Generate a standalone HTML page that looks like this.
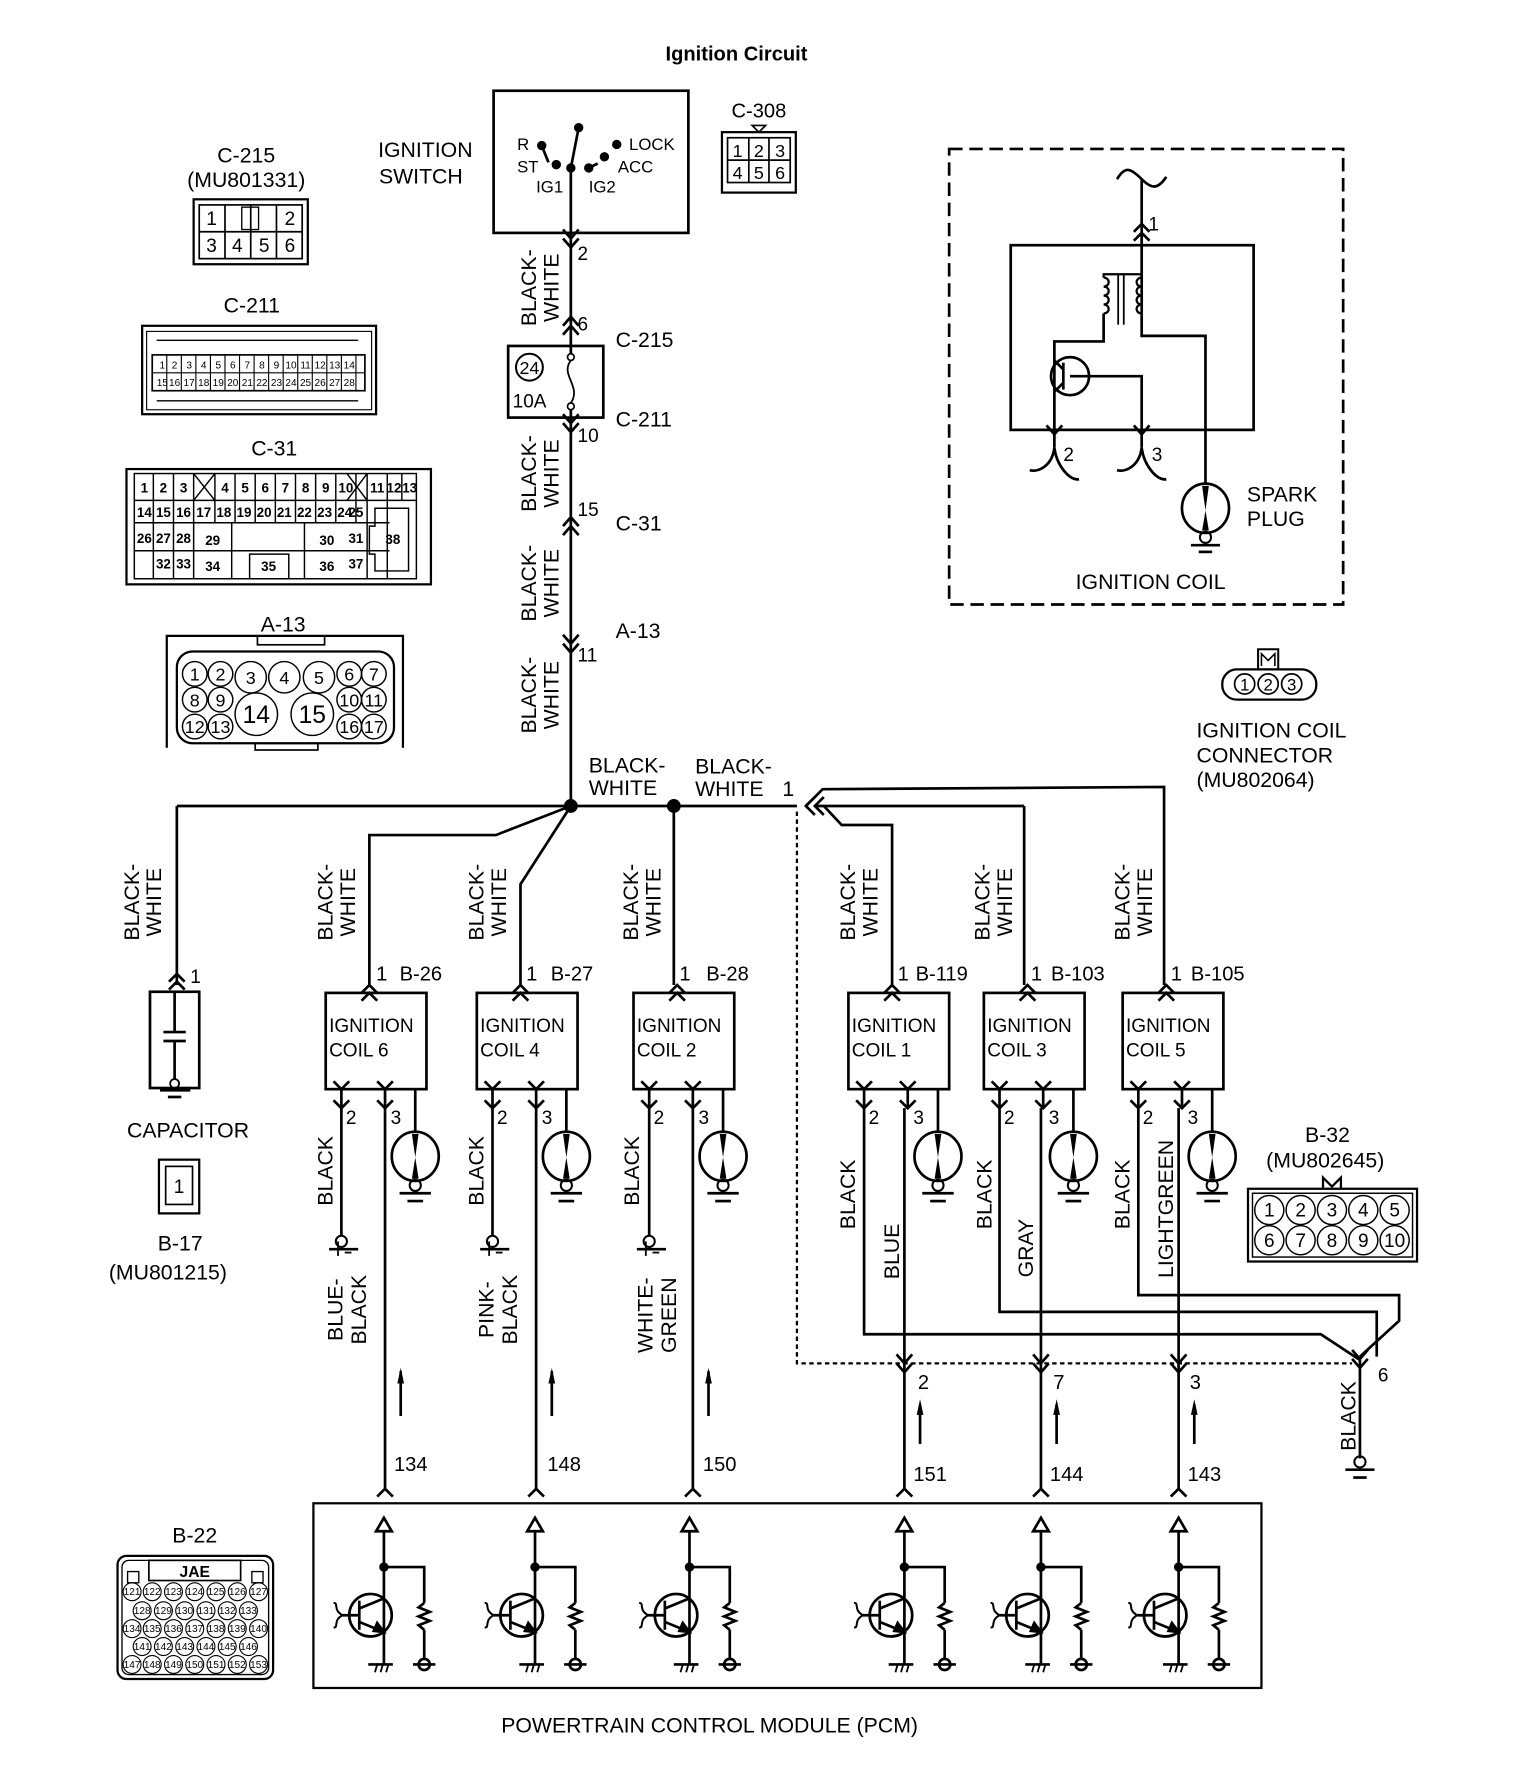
<!DOCTYPE html>
<html><head><meta charset="utf-8"><style>
html,body{margin:0;padding:0;background:#fff}
svg{display:block}
text{font-family:"Liberation Sans",sans-serif;fill:#000}
</style></head><body>
<svg width="1520" height="1772" viewBox="0 0 1358 1583" xmlns="http://www.w3.org/2000/svg">
<g fill="none" stroke="#000" stroke-width="2.4">

<!-- Title -->
<text x="658" y="54" font-size="18" font-weight="bold" text-anchor="middle" stroke="none">Ignition Circuit</text>

<!-- Ignition switch -->
<rect x="441" y="81" width="174" height="127"/>
<g stroke="none" font-size="15">
<text x="462" y="134">R</text><text x="462" y="154">ST</text>
<text x="479" y="172">IG1</text><text x="526" y="172">IG2</text>
<text x="562" y="134">LOCK</text><text x="552" y="154">ACC</text>
</g>
<circle cx="484" cy="130" r="3" fill="#000"/><circle cx="497" cy="147" r="3" fill="#000"/>
<circle cx="510" cy="150" r="3" fill="#000"/><circle cx="526" cy="150" r="3" fill="#000"/>
<circle cx="540" cy="140" r="3" fill="#000"/><circle cx="551" cy="129" r="3" fill="#000"/>
<circle cx="517" cy="114" r="3" fill="#000"/>
<line x1="510" y1="150" x2="517" y2="114"/>
<line x1="510" y1="150" x2="510" y2="208"/>
<line x1="484" y1="130" x2="490" y2="145"/><line x1="526" y1="150" x2="534" y2="146"/>

<text x="380" y="140" font-size="19" text-anchor="middle" stroke="none">IGNITION</text>
<text x="376" y="164" font-size="19" text-anchor="middle" stroke="none">SWITCH</text>

<!-- C-308 -->
<text x="678" y="105" font-size="18" text-anchor="middle" stroke="none">C-308</text>
<polygon points="672,112 684,112 678,118" stroke-width="1.5"/>
<rect x="645" y="118" width="66" height="54" stroke-width="2"/>
<rect x="650" y="123" width="56" height="40" stroke-width="1.5"/>
<line x1="669" y1="123" x2="669" y2="163" stroke-width="1.5"/><line x1="687" y1="123" x2="687" y2="163" stroke-width="1.5"/>
<line x1="650" y1="143" x2="706" y2="143" stroke-width="1.5"/>
<g stroke="none" font-size="16" text-anchor="middle">
<text x="659" y="140">1</text><text x="678" y="140">2</text><text x="697" y="140">3</text>
<text x="659" y="160">4</text><text x="678" y="160">5</text><text x="697" y="160">6</text></g>

<!-- C-215 connector -->
<text x="220" y="145" font-size="19" text-anchor="middle" stroke="none">C-215</text>
<text x="220" y="167" font-size="19" text-anchor="middle" stroke="none">(MU801331)</text>
<rect x="173" y="178" width="102" height="58" stroke-width="2"/>
<rect x="178" y="183" width="92" height="48" stroke-width="1.5"/>
<line x1="178" y1="207" x2="270" y2="207" stroke-width="1.5"/>
<line x1="201" y1="183" x2="201" y2="231" stroke-width="1.5"/><line x1="224" y1="183" x2="224" y2="231" stroke-width="1.5"/><line x1="247" y1="183" x2="247" y2="231" stroke-width="1.5"/>
<rect x="216" y="185" width="15" height="20" stroke-width="1.2"/>
<g stroke="none" font-size="17" text-anchor="middle">
<text x="189" y="201">1</text><text x="259" y="201">2</text>
<text x="189" y="225">3</text><text x="212" y="225">4</text><text x="236" y="225">5</text><text x="259" y="225">6</text></g>

<!-- C-211 -->
<text x="225" y="279" font-size="19" text-anchor="middle" stroke="none">C-211</text>
<rect x="127" y="291" width="209" height="79" stroke-width="2"/>
<rect x="131" y="296" width="201" height="70" stroke-width="1"/>
<line x1="140" y1="304" x2="320" y2="304" stroke-width="1.2"/>
<line x1="140" y1="358" x2="320" y2="358" stroke-width="1.2"/>
<rect x="136" y="317" width="190" height="32" stroke-width="1.5"/>
<line x1="136" y1="333" x2="326" y2="333" stroke-width="1"/>
<g stroke-width="1">
<line x1="149" y1="317" x2="149" y2="349"/><line x1="162" y1="317" x2="162" y2="349"/><line x1="175" y1="317" x2="175" y2="349"/><line x1="188" y1="317" x2="188" y2="349"/><line x1="201" y1="317" x2="201" y2="349"/><line x1="214" y1="317" x2="214" y2="349"/><line x1="227" y1="317" x2="227" y2="349"/><line x1="240" y1="317" x2="240" y2="349"/><line x1="253" y1="317" x2="253" y2="349"/><line x1="266" y1="317" x2="266" y2="349"/><line x1="279" y1="317" x2="279" y2="349"/><line x1="292" y1="317" x2="292" y2="349"/><line x1="305" y1="317" x2="305" y2="349"/><line x1="318" y1="317" x2="318" y2="349"/></g>
<g stroke="none" font-size="9" text-anchor="middle">
<text x="145" y="329">1</text><text x="156" y="329">2</text><text x="169" y="329">3</text><text x="182" y="329">4</text><text x="195" y="329">5</text><text x="208" y="329">6</text><text x="221" y="329">7</text><text x="234" y="329">8</text><text x="247" y="329">9</text><text x="260" y="329">10</text><text x="273" y="329">11</text><text x="286" y="329">12</text><text x="299" y="329">13</text><text x="312" y="329">14</text>
<text x="145" y="345">15</text><text x="156" y="345">16</text><text x="169" y="345">17</text><text x="182" y="345">18</text><text x="195" y="345">19</text><text x="208" y="345">20</text><text x="221" y="345">21</text><text x="234" y="345">22</text><text x="247" y="345">23</text><text x="260" y="345">24</text><text x="273" y="345">25</text><text x="286" y="345">26</text><text x="299" y="345">27</text><text x="312" y="345">28</text></g>

<!-- C-31 -->
<text x="245" y="407" font-size="19" text-anchor="middle" stroke="none">C-31</text>
<rect x="113" y="419" width="272" height="103" stroke-width="2"/>
<g stroke-width="1.3">
<rect x="120" y="423" width="252" height="94"/>
<line x1="120" y1="447" x2="372" y2="447"/><line x1="120" y1="467" x2="348" y2="467"/><line x1="120" y1="492" x2="348" y2="492"/>
<line x1="137" y1="423" x2="137" y2="517"/><line x1="155" y1="423" x2="155" y2="517"/><line x1="173" y1="423" x2="173" y2="517"/>
<line x1="173" y1="423" x2="192" y2="447"/><line x1="192" y1="423" x2="173" y2="447"/>
<line x1="192" y1="423" x2="192" y2="467"/><line x1="210" y1="423" x2="210" y2="467"/><line x1="228" y1="423" x2="228" y2="467"/><line x1="246" y1="423" x2="246" y2="467"/><line x1="264" y1="423" x2="264" y2="467"/><line x1="282" y1="423" x2="282" y2="467"/><line x1="300" y1="423" x2="300" y2="467"/><line x1="318" y1="423" x2="318" y2="467"/>
<line x1="310" y1="423" x2="328" y2="447"/><line x1="328" y1="423" x2="310" y2="447"/>
<line x1="328" y1="423" x2="328" y2="517"/><line x1="346" y1="423" x2="346" y2="517"/><line x1="359" y1="423" x2="359" y2="447"/>
<line x1="207" y1="467" x2="207" y2="517"/><line x1="272" y1="467" x2="272" y2="517"/>
<rect x="223" y="495" width="35" height="22"/>
<path d="M335 454 H365 V510 H335 V495 H330 V470 H335 Z"/>
</g>
<g stroke="none" font-size="12" font-weight="bold" text-anchor="middle">
<text x="129" y="440">1</text><text x="146" y="440">2</text><text x="164" y="440">3</text><text x="201" y="440">4</text><text x="219" y="440">5</text><text x="237" y="440">6</text><text x="255" y="440">7</text><text x="273" y="440">8</text><text x="291" y="440">9</text><text x="309" y="440">10</text><text x="337" y="440">11</text><text x="352" y="440">12</text><text x="366" y="440">13</text>
<text x="129" y="462">14</text><text x="146" y="462">15</text><text x="164" y="462">16</text><text x="182" y="462">17</text><text x="200" y="462">18</text><text x="218" y="462">19</text><text x="236" y="462">20</text><text x="254" y="462">21</text><text x="272" y="462">22</text><text x="290" y="462">23</text><text x="308" y="462">24</text><text x="318" y="462">25</text>
<text x="129" y="485">26</text><text x="146" y="485">27</text><text x="164" y="485">28</text><text x="190" y="487">29</text><text x="292" y="487">30</text><text x="318" y="485">31</text><text x="351" y="486">38</text>
<text x="146" y="508">32</text><text x="164" y="508">33</text><text x="190" y="510">34</text><text x="240" y="510">35</text><text x="292" y="510">36</text><text x="318" y="508">37</text></g>

<!-- A-13 -->
<text x="253" y="564" font-size="19" text-anchor="middle" stroke="none">A-13</text>
<path d="M149 668 V568 H360 V668" stroke-width="2"/>
<rect x="230" y="568" width="60" height="8" stroke-width="1.5"/>
<rect x="158" y="582" width="194" height="82" rx="14" stroke-width="2"/>
<rect x="228" y="664" width="56" height="6" stroke-width="1.5"/>
<g stroke-width="1.3">
<circle cx="174" cy="602" r="11"/><circle cx="197" cy="602" r="11"/><circle cx="224" cy="605" r="14"/><circle cx="254" cy="605" r="14"/><circle cx="285" cy="605" r="14"/><circle cx="312" cy="602" r="11"/><circle cx="334" cy="602" r="11"/>
<circle cx="174" cy="625" r="11"/><circle cx="197" cy="625" r="11"/><circle cx="229" cy="638" r="19"/><circle cx="279" cy="638" r="19"/><circle cx="312" cy="625" r="11"/><circle cx="334" cy="625" r="11"/>
<circle cx="174" cy="649" r="11"/><circle cx="197" cy="649" r="11"/><circle cx="312" cy="649" r="11"/><circle cx="334" cy="649" r="11"/></g>
<g stroke="none" font-size="16" text-anchor="middle">
<text x="174" y="608">1</text><text x="197" y="608">2</text><text x="224" y="611">3</text><text x="254" y="611">4</text><text x="285" y="611">5</text><text x="312" y="608">6</text><text x="334" y="608">7</text>
<text x="174" y="631">8</text><text x="197" y="631">9</text><text x="229" y="646" font-size="22">14</text><text x="279" y="646" font-size="22">15</text><text x="312" y="631">10</text><text x="334" y="631">11</text>
<text x="174" y="655">12</text><text x="197" y="655">13</text><text x="312" y="655">16</text><text x="334" y="655">17</text></g>

<!-- Main vertical wire -->
<line x1="510" y1="208" x2="510" y2="309"/>
<line x1="510" y1="373" x2="510" y2="720"/>
<polyline points="503,205 510,213 517,205"/><polyline points="503,213 510,221 517,213"/>
<text x="516" y="232" font-size="17" stroke="none">2</text>
<polyline points="503,299 510,291 517,299"/><polyline points="503,291 510,283 517,291"/>
<text x="516" y="295" font-size="17" stroke="none">6</text>
<text x="550" y="310" font-size="19" stroke="none">C-215</text>
<rect x="454" y="309" width="85" height="64"/>
<circle cx="473" cy="328" r="12" stroke-width="1.8"/>
<text x="473" y="334" font-size="16" text-anchor="middle" stroke="none">24</text>
<text x="458" y="364" font-size="17" stroke="none">10A</text>
<path d="M510 309 V316 M510 366 V373" />
<path d="M510 322 C500 335, 520 345, 510 360" stroke-width="1.6"/>
<circle cx="510" cy="319" r="3" stroke-width="1.5"/><circle cx="510" cy="363" r="3" stroke-width="1.5"/>
<polyline points="503,370 510,378 517,370"/><polyline points="503,378 510,386 517,378"/>
<text x="516" y="395" font-size="17" stroke="none">10</text>
<text x="550" y="381" font-size="19" stroke="none">C-211</text>
<polyline points="503,470 510,462 517,470"/><polyline points="503,478 510,470 517,478"/>
<text x="516" y="461" font-size="17" stroke="none">15</text>
<text x="550" y="474" font-size="19" stroke="none">C-31</text>
<polyline points="503,567 510,575 517,567"/><polyline points="503,575 510,583 517,575"/>
<text x="516" y="591" font-size="17" stroke="none">11</text>
<text x="550" y="570" font-size="19" stroke="none">A-13</text>

<g stroke="none" font-size="19" text-anchor="middle">
<text transform="translate(479,257) rotate(-90)">BLACK-</text><text transform="translate(499,257) rotate(-90)">WHITE</text>
<text transform="translate(479,423) rotate(-90)">BLACK-</text><text transform="translate(499,423) rotate(-90)">WHITE</text>
<text transform="translate(479,521) rotate(-90)">BLACK-</text><text transform="translate(499,521) rotate(-90)">WHITE</text>
<text transform="translate(479,621) rotate(-90)">BLACK-</text><text transform="translate(499,621) rotate(-90)">WHITE</text>
</g>

<!-- Bus -->
<line x1="158" y1="720" x2="712" y2="720"/>
<circle cx="510" cy="720" r="5" fill="#000"/><circle cx="602" cy="720" r="5" fill="#000"/>
<g stroke="none" font-size="19">
<text x="526" y="690">BLACK-</text><text x="526" y="710">WHITE</text>
<text x="621" y="691">BLACK-</text><text x="621" y="711">WHITE</text><text x="699" y="711">1</text></g>
<polyline points="728,712 720,720 728,728"/><polyline points="736,712 728,720 736,728"/>
<polyline points="720,720 735,705 1040,703 1040,880"/>
<line x1="728" y1="720" x2="915" y2="720"/><line x1="915" y1="720" x2="915" y2="880"/>
<polyline points="736,720 752,737 797,737 797,880"/>
<line x1="158" y1="720" x2="158" y2="880"/>
<polyline points="510,720 443,746 330,746 330,880"/>
<polyline points="510,720 465,790 465,880"/>
<line x1="602" y1="720" x2="602" y2="880"/>

<g stroke="none" font-size="19" text-anchor="middle">
<text transform="translate(124,806) rotate(-90)">BLACK-</text><text transform="translate(144,806) rotate(-90)">WHITE</text>
<text transform="translate(297,806) rotate(-90)">BLACK-</text><text transform="translate(317,806) rotate(-90)">WHITE</text>
<text transform="translate(432,806) rotate(-90)">BLACK-</text><text transform="translate(452,806) rotate(-90)">WHITE</text>
<text transform="translate(570,806) rotate(-90)">BLACK-</text><text transform="translate(590,806) rotate(-90)">WHITE</text>
<text transform="translate(764,806) rotate(-90)">BLACK-</text><text transform="translate(784,806) rotate(-90)">WHITE</text>
<text transform="translate(884,806) rotate(-90)">BLACK-</text><text transform="translate(904,806) rotate(-90)">WHITE</text>
<text transform="translate(1009,806) rotate(-90)">BLACK-</text><text transform="translate(1029,806) rotate(-90)">WHITE</text>
</g>

<!-- Capacitor -->
<polyline points="151,877 158,870 165,877"/><polyline points="151,884 158,877 165,884"/>
<text x="170" y="878" font-size="17" stroke="none">1</text>
<rect x="134" y="886" width="44" height="86"/>
<line x1="156" y1="886" x2="156" y2="922"/><line x1="146" y1="922" x2="166" y2="922"/><line x1="146" y1="930" x2="166" y2="930"/><line x1="156" y1="930" x2="156" y2="964"/>
<circle cx="156" cy="968" r="4" stroke-width="1.6"/>
<line x1="143" y1="974" x2="170" y2="974"/><line x1="150" y1="980" x2="162" y2="980"/>
<text x="168" y="1016" font-size="19" text-anchor="middle" stroke="none">CAPACITOR</text>
<rect x="142" y="1036" width="36" height="48" stroke-width="2"/><rect x="148" y="1042" width="24" height="34" stroke-width="1.5"/>
<text x="160" y="1066" font-size="17" text-anchor="middle" stroke="none">1</text>
<text x="161" y="1117" font-size="19" text-anchor="middle" stroke="none">B-17</text>
<text x="150" y="1143" font-size="19" text-anchor="middle" stroke="none">(MU801215)</text>

<!-- Coils -->
<g id="coil6" transform="translate(291,0)">
<rect x="0" y="887" width="90" height="86"/>
<polyline points="32,894 39,887 46,894"/><polyline points="32,887 39,880 46,887"/>
<line x1="14" y1="973" x2="14" y2="990"/><polyline points="7,966 14,973 21,966"/><polyline points="7,983 14,990 21,983"/>
<line x1="53" y1="973" x2="53" y2="990"/><polyline points="46,966 53,973 60,966"/><polyline points="46,983 53,990 60,983"/>
<line x1="80" y1="973" x2="80" y2="1011"/>
<ellipse cx="80" cy="1033" rx="21" ry="22"/>
<polygon points="77,1013 83,1013 80,1034" fill="#000" stroke="none"/><polygon points="77,1053 83,1053 80,1034" fill="#000" stroke="none"/>
<circle cx="80" cy="1059" r="5" stroke-width="1.8"/>
<line x1="66" y1="1066" x2="94" y2="1066"/><line x1="73" y1="1073" x2="87" y2="1073"/>
</g>
<use href="#coil6" transform="translate(135,0)"/>
<use href="#coil6" transform="translate(275,0)"/>
<use href="#coil6" transform="translate(467,0)"/>
<use href="#coil6" transform="translate(588,0)"/>
<use href="#coil6" transform="translate(712,0)"/>

<g stroke="none" font-size="17">
<text x="294" y="922">IGNITION</text><text x="294" y="944">COIL 6</text>
<text x="429" y="922">IGNITION</text><text x="429" y="944">COIL 4</text>
<text x="569" y="922">IGNITION</text><text x="569" y="944">COIL 2</text>
<text x="761" y="922">IGNITION</text><text x="761" y="944">COIL 1</text>
<text x="882" y="922">IGNITION</text><text x="882" y="944">COIL 3</text>
<text x="1006" y="922">IGNITION</text><text x="1006" y="944">COIL 5</text>
</g>
<g stroke="none" font-size="18">
<text x="336" y="876">1</text><text x="357" y="876">B-26</text>
<text x="470" y="876">1</text><text x="492" y="876">B-27</text>
<text x="607" y="876">1</text><text x="631" y="876">B-28</text>
<text x="802" y="876">1</text><text x="818" y="876">B-119</text>
<text x="921" y="876">1</text><text x="939" y="876">B-103</text>
<text x="1046" y="876">1</text><text x="1064" y="876">B-105</text>
</g>
<g stroke="none" font-size="17">
<text x="309" y="1004">2</text><text x="349" y="1004">3</text>
<text x="444" y="1004">2</text><text x="484" y="1004">3</text>
<text x="584" y="1004">2</text><text x="624" y="1004">3</text>
<text x="776" y="1004">2</text><text x="816" y="1004">3</text>
<text x="897" y="1004">2</text><text x="937" y="1004">3</text>
<text x="1021" y="1004">2</text><text x="1061" y="1004">3</text>
</g>

<!-- Left three: pin2 ground, pin3 down -->
<g id="lcol" transform="translate(305,0)">
<line x1="0" y1="990" x2="0" y2="1104"/>
<circle cx="0" cy="1109" r="5" stroke-width="1.8"/>
<line x1="-11" y1="1116" x2="15" y2="1116"/><line x1="-3" y1="1109" x2="-3" y2="1122" stroke-width="1.6"/><line x1="3" y1="1119" x2="9" y2="1119" stroke-width="1.6"/>
<line x1="39" y1="990" x2="39" y2="1330"/>
<polyline points="32,1337 39,1330 46,1337"/>
<line x1="53" y1="1225" x2="53" y2="1265"/><polygon points="50,1236 56,1236 53,1222" fill="#000" stroke="none"/>
</g>
<use href="#lcol" transform="translate(135,0)"/>
<use href="#lcol" transform="translate(275,0)"/>
<g stroke="none" font-size="19" text-anchor="middle">
<text transform="translate(297,1046) rotate(-90)">BLACK</text>
<text transform="translate(432,1046) rotate(-90)">BLACK</text>
<text transform="translate(571,1046) rotate(-90)">BLACK</text>
<text transform="translate(306,1170) rotate(-90)">BLUE-</text><text transform="translate(327,1170) rotate(-90)">BLACK</text>
<text transform="translate(441,1170) rotate(-90)">PINK-</text><text transform="translate(462,1170) rotate(-90)">BLACK</text>
<text transform="translate(583,1175) rotate(-90)">WHITE-</text><text transform="translate(604,1175) rotate(-90)">GREEN</text>
</g>
<g stroke="none" font-size="18">
<text x="352" y="1314">134</text><text x="489" y="1314">148</text><text x="628" y="1314">150</text>
</g>

<!-- Right three -->
<polyline points="772,990 772,1192 1180,1192 1215,1215"/>
<polyline points="893,990 893,1172 1230,1172 1230,1212"/>
<polyline points="1017,990 1017,1157 1250,1157 1250,1180 1215,1212"/>
<line x1="1215" y1="1215" x2="1215" y2="1303"/>
<polyline points="1208,1206 1215,1214 1222,1206"/><polyline points="1208,1214 1215,1222 1222,1214"/>
<circle cx="1215" cy="1306" r="5" stroke-width="1.8"/>
<line x1="1202" y1="1313" x2="1228" y2="1313"/><line x1="1209" y1="1320" x2="1221" y2="1320"/>
<text x="1231" y="1234" font-size="17" stroke="none">6</text>
<text transform="translate(1211,1265) rotate(-90)" font-size="19" text-anchor="middle" stroke="none">BLACK</text>
<polyline points="712,725 712,1218 1208,1218" stroke-dasharray="4,3" stroke-width="2"/>
<g id="rcol" transform="translate(808,0)">
<line x1="0" y1="990" x2="0" y2="1330"/>
<polyline points="-7,1210 0,1218 7,1210"/><polyline points="-7,1218 0,1226 7,1218"/>
<polyline points="-7,1337 0,1330 7,1337"/>
<line x1="14" y1="1255" x2="14" y2="1290"/><polygon points="11,1264 17,1264 14,1250" fill="#000" stroke="none"/>
</g>
<use href="#rcol" transform="translate(122,0)"/>
<use href="#rcol" transform="translate(245,0)"/>
<g stroke="none" font-size="18">
<text x="820" y="1241">2</text><text x="941" y="1241">7</text><text x="1063" y="1241">3</text>
<text x="816" y="1323">151</text><text x="938" y="1323">144</text><text x="1061" y="1323">143</text>
</g>
<g stroke="none" font-size="19" text-anchor="middle">
<text transform="translate(764,1067) rotate(-90)">BLACK</text>
<text transform="translate(803,1118) rotate(-90)">BLUE</text>
<text transform="translate(886,1067) rotate(-90)">BLACK</text>
<text transform="translate(923,1115) rotate(-90)">GRAY</text>
<text transform="translate(1009,1067) rotate(-90)">BLACK</text>
<text transform="translate(1048,1080) rotate(-90)">LIGHTGREEN</text>
</g>

<!-- B-32 -->
<text x="1186" y="1020" font-size="19" text-anchor="middle" stroke="none">B-32</text>
<text x="1184" y="1043" font-size="19" text-anchor="middle" stroke="none">(MU802645)</text>
<polyline points="1182,1062 1182,1052 1190,1060 1198,1052 1198,1062" stroke-width="2"/>
<rect x="1115" y="1062" width="151" height="65" stroke-width="2"/>
<rect x="1119" y="1066" width="143" height="57" stroke-width="1.3"/>
<g stroke-width="1.3">
<circle cx="1134" cy="1081" r="13"/><circle cx="1162" cy="1081" r="13"/><circle cx="1190" cy="1081" r="13"/><circle cx="1218" cy="1081" r="13"/><circle cx="1246" cy="1081" r="13"/>
<circle cx="1134" cy="1108" r="13"/><circle cx="1162" cy="1108" r="13"/><circle cx="1190" cy="1108" r="13"/><circle cx="1218" cy="1108" r="13"/><circle cx="1246" cy="1108" r="13"/></g>
<g stroke="none" font-size="17" text-anchor="middle">
<text x="1134" y="1087">1</text><text x="1162" y="1087">2</text><text x="1190" y="1087">3</text><text x="1218" y="1087">4</text><text x="1246" y="1087">5</text>
<text x="1134" y="1114">6</text><text x="1162" y="1114">7</text><text x="1190" y="1114">8</text><text x="1218" y="1114">9</text><text x="1246" y="1114">10</text></g>

<!-- PCM -->
<rect x="280" y="1343" width="847" height="165" stroke-width="2"/>
<g id="tr" transform="translate(343,0)">
<polygon points="-7,1368 7,1368 0,1356"/>
<line x1="0" y1="1368" x2="0" y2="1487"/>
<circle cx="0" cy="1400" r="3" fill="#000"/>
<polyline points="0,1400 36,1400 36,1432"/>
<polyline points="36,1432 31,1436 41,1440 31,1444 41,1448 31,1452 36,1456"/>
<line x1="36" y1="1456" x2="36" y2="1482"/>
<circle cx="36" cy="1487" r="5"/>
<line x1="26" y1="1487" x2="46" y2="1487"/>
<circle cx="-12" cy="1443" r="19"/>
<line x1="-22" y1="1430" x2="-22" y2="1456"/>
<line x1="-37" y1="1443" x2="-22" y2="1443"/>
<path d="M-37 1443 C-46 1438,-40 1432,-45 1432 M-37 1443 C-46 1448,-40 1454,-45 1454" stroke-width="1.8"/>
<line x1="-22" y1="1437" x2="0" y2="1428"/>
<line x1="-22" y1="1449" x2="0" y2="1458"/>
<polygon points="-6,1450 0,1458 -9,1457" fill="#000"/>
<line x1="-14" y1="1487" x2="8" y2="1487"/>
<line x1="-6" y1="1487" x2="-8" y2="1494" stroke-width="1.6"/><line x1="-1" y1="1487" x2="-3" y2="1494" stroke-width="1.6"/><line x1="4" y1="1487" x2="2" y2="1494" stroke-width="1.6"/>
</g>
<use href="#tr" transform="translate(135,0)"/>
<use href="#tr" transform="translate(273,0)"/>
<use href="#tr" transform="translate(465,0)"/>
<use href="#tr" transform="translate(587,0)"/>
<use href="#tr" transform="translate(710,0)"/>
<text x="634" y="1548" font-size="19" text-anchor="middle" stroke="none">POWERTRAIN CONTROL MODULE (PCM)</text>

<!-- B-22 -->
<text x="174" y="1378" font-size="19" text-anchor="middle" stroke="none">B-22</text>
<rect x="105" y="1390" width="139" height="110" rx="8" stroke-width="2"/>
<rect x="109" y="1394" width="131" height="102" rx="6" stroke-width="1.2"/>
<rect x="133" y="1394" width="82" height="18" stroke-width="1.5"/>
<rect x="114" y="1404" width="10" height="10" stroke-width="1.2"/><rect x="225" y="1404" width="10" height="10" stroke-width="1.2"/>
<text x="174" y="1409" font-size="14" font-weight="bold" text-anchor="middle" stroke="none">JAE</text>
<g stroke-width="1" id="b22">
<circle cx="118" cy="1422" r="8"/><circle cx="136" cy="1422" r="8"/><circle cx="155" cy="1422" r="8"/><circle cx="174" cy="1422" r="8"/><circle cx="193" cy="1422" r="8"/><circle cx="212" cy="1422" r="8"/><circle cx="231" cy="1422" r="8"/>
<circle cx="127" cy="1439" r="8"/><circle cx="146" cy="1439" r="8"/><circle cx="165" cy="1439" r="8"/><circle cx="184" cy="1439" r="8"/><circle cx="203" cy="1439" r="8"/><circle cx="222" cy="1439" r="8"/>
<circle cx="118" cy="1455" r="8"/><circle cx="136" cy="1455" r="8"/><circle cx="155" cy="1455" r="8"/><circle cx="174" cy="1455" r="8"/><circle cx="193" cy="1455" r="8"/><circle cx="212" cy="1455" r="8"/><circle cx="231" cy="1455" r="8"/>
<circle cx="127" cy="1471" r="8"/><circle cx="146" cy="1471" r="8"/><circle cx="165" cy="1471" r="8"/><circle cx="184" cy="1471" r="8"/><circle cx="203" cy="1471" r="8"/><circle cx="222" cy="1471" r="8"/>
<circle cx="118" cy="1487" r="8"/><circle cx="136" cy="1487" r="8"/><circle cx="155" cy="1487" r="8"/><circle cx="174" cy="1487" r="8"/><circle cx="193" cy="1487" r="8"/><circle cx="212" cy="1487" r="8"/><circle cx="231" cy="1487" r="8"/>
</g>
<g stroke="none" font-size="9" text-anchor="middle">
<text x="118" y="1425">121</text><text x="136" y="1425">122</text><text x="155" y="1425">123</text><text x="174" y="1425">124</text><text x="193" y="1425">125</text><text x="212" y="1425">126</text><text x="231" y="1425">127</text>
<text x="127" y="1442">128</text><text x="146" y="1442">129</text><text x="165" y="1442">130</text><text x="184" y="1442">131</text><text x="203" y="1442">132</text><text x="222" y="1442">133</text>
<text x="118" y="1458">134</text><text x="136" y="1458">135</text><text x="155" y="1458">136</text><text x="174" y="1458">137</text><text x="193" y="1458">138</text><text x="212" y="1458">139</text><text x="231" y="1458">140</text>
<text x="127" y="1474">141</text><text x="146" y="1474">142</text><text x="165" y="1474">143</text><text x="184" y="1474">144</text><text x="203" y="1474">145</text><text x="222" y="1474">146</text>
<text x="118" y="1490">147</text><text x="136" y="1490">148</text><text x="155" y="1490">149</text><text x="174" y="1490">150</text><text x="193" y="1490">151</text><text x="212" y="1490">152</text><text x="231" y="1490">153</text></g>

<!-- Ignition coil dashed box -->
<rect x="848" y="133" width="352" height="407" stroke-dasharray="12,6"/>
<path d="M998 160 C1005 148,1010 150,1020 160 C1030 170,1035 168,1042 158"/>
<line x1="1020" y1="160" x2="1020" y2="282"/>
<polyline points="1013,207 1020,200 1027,207"/><polyline points="1013,215 1020,208 1027,215"/>
<text x="1026" y="206" font-size="17" stroke="none">1</text>
<rect x="903" y="219" width="217" height="165"/>
<polyline points="1020,282 1020,300 1077,300 1077,432"/>
<path d="M986 248 V245 H1020" stroke-width="2"/>
<path d="M986 248 c6 0 6 8 0 8 c6 0 6 8 0 8 c6 0 6 8 0 8 c6 0 6 8 0 8" stroke-width="2"/>
<path d="M1020 248 c-6 0 -6 8 0 8 c-6 0 -6 8 0 8 c-6 0 -6 8 0 8 c-6 0 -6 8 0 8" stroke-width="2"/>
<line x1="999" y1="244" x2="999" y2="290" stroke-width="1.6"/><line x1="1004" y1="244" x2="1004" y2="290" stroke-width="1.6"/>
<polyline points="986,280 986,305 942,305 942,400"/>
<circle cx="956" cy="336" r="17"/>
<line x1="950" y1="324" x2="950" y2="348"/>
<polyline points="950,330 942,322"/><polyline points="950,342 942,350"/>
<polyline points="956,336 1020,336 1020,400"/>
<polyline points="935,380 942,388 949,380"/><polyline points="1013,380 1020,388 1027,380"/>
<path d="M942 400 C940 416,928 422,920 420 M942 400 C944 416,956 430,964 428"/>
<path d="M1020 400 C1018 416,1006 422,998 420 M1020 400 C1022 416,1034 430,1042 428"/>
<text x="950" y="412" font-size="17" stroke="none">2</text><text x="1029" y="412" font-size="17" stroke="none">3</text>
<ellipse cx="1077" cy="454" rx="21" ry="22"/>
<polygon points="1074,434 1080,434 1077,456" fill="#000" stroke="none"/><polygon points="1074,474 1080,474 1077,456" fill="#000" stroke="none"/>
<circle cx="1077" cy="480" r="5" stroke-width="1.8"/>
<line x1="1064" y1="487" x2="1090" y2="487"/><line x1="1071" y1="493" x2="1083" y2="493"/>
<text x="1114" y="448" font-size="19" stroke="none">SPARK</text><text x="1114" y="470" font-size="19" stroke="none">PLUG</text>
<text x="1028" y="526" font-size="19" text-anchor="middle" stroke="none">IGNITION COIL</text>

<!-- Ignition coil connector -->
<rect x="1124" y="580" width="18" height="18" stroke-width="1.8"/>
<polyline points="1127,595 1127,584 1133,590 1139,584 1139,595" stroke-width="1.4"/>
<rect x="1092" y="598" width="84" height="27" rx="13" stroke-width="2"/>
<circle cx="1112" cy="611" r="9" stroke-width="1.5"/><circle cx="1133" cy="611" r="9" stroke-width="1.5"/><circle cx="1154" cy="611" r="9" stroke-width="1.5"/>
<g stroke="none" font-size="15" text-anchor="middle"><text x="1112" y="617">1</text><text x="1133" y="617">2</text><text x="1154" y="617">3</text></g>
<g stroke="none" font-size="19"><text x="1069" y="659">IGNITION COIL</text><text x="1069" y="681">CONNECTOR</text><text x="1069" y="703">(MU802064)</text></g>

</g>
</svg>
</body></html>
